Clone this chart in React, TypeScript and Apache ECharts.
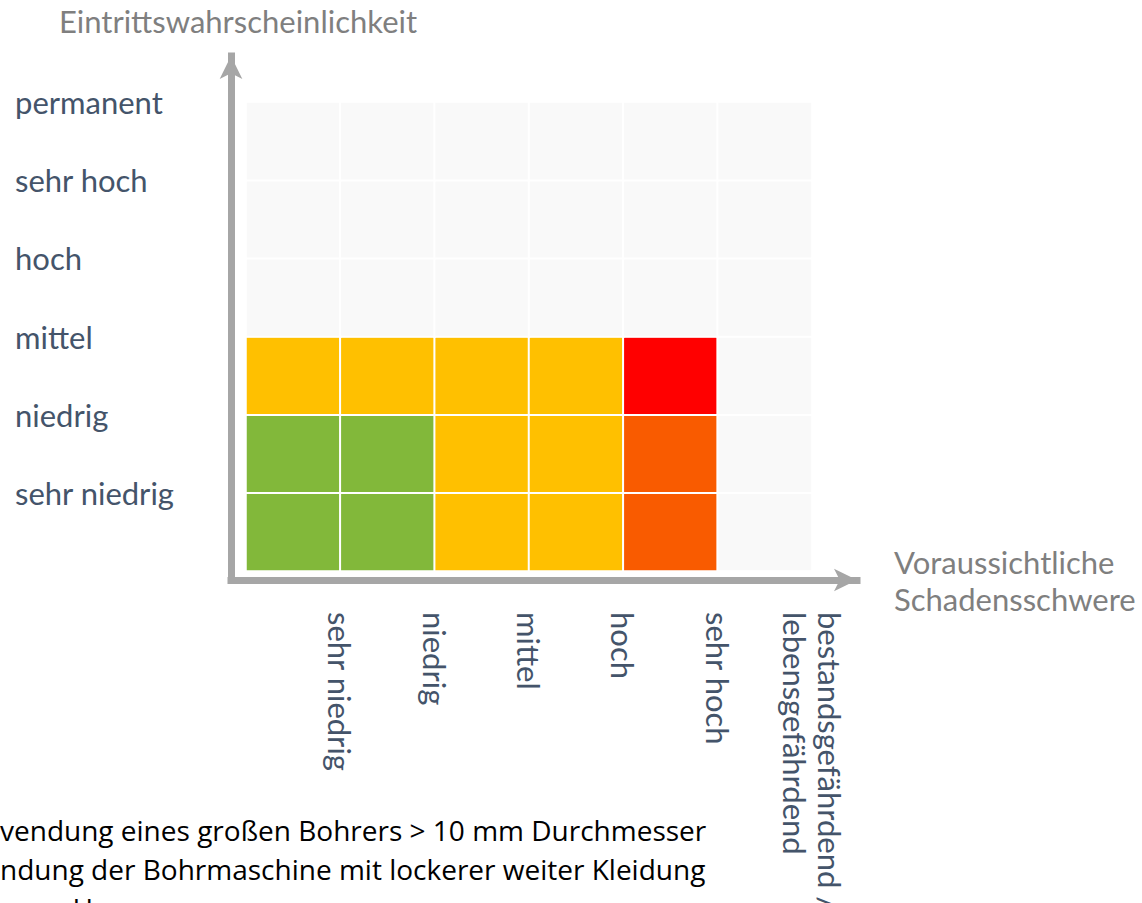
import React, { useEffect, useRef } from "react";
import * as echarts from "echarts";

const severityLabels = [
  "sehr niedrig",
  "niedrig",
  "mittel",
  "hoch",
  "sehr hoch",
  "bestandsgefährdend /\nlebensgefährdend",
];
const likelihoodLabels = ["sehr niedrig", "niedrig", "mittel", "hoch", "sehr hoch", "permanent"];
// risk level per likelihood row (bottom to top), per severity column
// 0 = not rated, 1 = low (green), 2 = medium (amber), 3 = high (orange), 4 = very high (red)
const riskRows = [
  [1, 1, 2, 2, 3, 0],
  [1, 1, 2, 2, 3, 0],
  [2, 2, 2, 2, 4, 0],
  [0, 0, 0, 0, 0, 0],
  [0, 0, 0, 0, 0, 0],
  [0, 0, 0, 0, 0, 0],
];
const riskColors = ["#f9f9f9", "#82b83a", "#ffc000", "#f95b00", "#ff0000"];
const xAxisName = "Voraussichtliche\nSchadensschwere";
const yAxisName = "Eintrittswahrscheinlichkeit";
const noteLines = [
  "vendung eines großen Bohrers > 10 mm Durchmesser",
  "ndung der Bohrmaschine mit lockerer weiter Kleidung",
  "ngen Haaren",
];

const LABEL_FONT = "Lato, 'Noto Sans', sans-serif";
const LABEL_SIZE = 31;
const LABEL_COLOR = "#44546a";
const NAME_COLOR = "#7f7f7f";
const AXIS_COLOR = "#a6a6a6";

export default function App() {
  const ref = useRef<HTMLDivElement>(null);
  useEffect(() => {
    if (!ref.current) return;
    const chart = echarts.init(ref.current, undefined, { renderer: "svg" });
    const data: number[][] = [];
    riskRows.forEach((row, yi) => row.forEach((v, xi) => data.push([xi, yi, v])));

    const hiddenAxis = {
      axisLine: { show: false },
      axisTick: { show: false },
      axisLabel: { show: false },
      splitLine: { show: false },
    };
    const frameLine = {
      show: true,
      symbol: ["none", "arrow"],
      symbolSize: [17, 23],
      lineStyle: { color: AXIS_COLOR, width: 7, cap: "square" },
    };

    chart.setOption({
      animation: false,
      grid: [
        { left: 246, right: 330, top: 102, bottom: 332, outerBoundsMode: "none", containLabel: false },
        { left: 231, right: 285, top: 56, bottom: 323, outerBoundsMode: "none", containLabel: false },
      ],
      visualMap: {
        type: "piecewise",
        show: false,
        seriesIndex: 0,
        dimension: 2,
        pieces: riskColors.map((c, i) => ({ value: i, color: c })),
      },
      xAxis: [
        { type: "category", gridIndex: 0, data: severityLabels, ...hiddenAxis },
        {
          type: "category",
          gridIndex: 0,
          position: "bottom",
          boundaryGap: false,
          data: ["", ...severityLabels],
          axisLine: { show: false },
          axisTick: { show: false },
          splitLine: { show: false },
          axisLabel: {
            interval: 0,
            rotate: -90,
            margin: 41,
            color: LABEL_COLOR,
            fontSize: LABEL_SIZE,
            fontFamily: LABEL_FONT,
            lineHeight: 35,
          },
        },
        {
          type: "value",
          gridIndex: 1,
          min: 0,
          max: 1,
          axisLine: frameLine,
          axisTick: { show: false },
          axisLabel: { show: false },
          splitLine: { show: false },
          name: xAxisName,
          nameLocation: "end",
          nameGap: 37,
          nameTextStyle: {
            color: NAME_COLOR,
            fontSize: LABEL_SIZE,
            fontFamily: LABEL_FONT,
            lineHeight: 37,
            align: "left",
            verticalAlign: "middle",
            padding: [7, 0, 0, 0],
          },
        },
      ],
      yAxis: [
        { type: "category", gridIndex: 0, data: likelihoodLabels, ...hiddenAxis },
        {
          type: "category",
          gridIndex: 0,
          position: "left",
          boundaryGap: false,
          data: ["", ...likelihoodLabels],
          axisLine: { show: false },
          axisTick: { show: false },
          splitLine: { show: false },
          axisLabel: {
            interval: 0,
            align: "left",
            margin: 231,
            color: LABEL_COLOR,
            fontSize: LABEL_SIZE,
            fontFamily: LABEL_FONT,
          },
        },
        {
          type: "value",
          gridIndex: 1,
          min: 0,
          max: 1,
          axisLine: frameLine,
          axisTick: { show: false },
          axisLabel: { show: false },
          splitLine: { show: false },
          name: yAxisName,
          nameLocation: "end",
          nameGap: 20,
          nameTextStyle: {
            color: NAME_COLOR,
            fontSize: LABEL_SIZE,
            fontFamily: LABEL_FONT,
            align: "center",
            padding: [0, 0, 0, 14],
          },
        },
      ],
      series: [
        {
          type: "heatmap",
          xAxisIndex: 0,
          yAxisIndex: 0,
          data,
          itemStyle: { borderColor: "#ffffff", borderWidth: 2 },
          emphasis: { disabled: true },
          label: { show: false },
        },
      ],
      graphic: noteLines.map((t, i) => ({
        type: "text",
        left: 0,
        top: 816 + i * 39,
        style: {
          text: t,
          fill: "#000000",
          fontSize: 28,
          fontFamily: "'Open Sans', 'Noto Sans', sans-serif",
        },
      })),
    });
    return () => chart.dispose();
  }, []);
  return (
    <div
      ref={ref}
      style={{ position: "absolute", left: 0, top: 0, width: 1142, height: 903 }}
    />
  );
}
